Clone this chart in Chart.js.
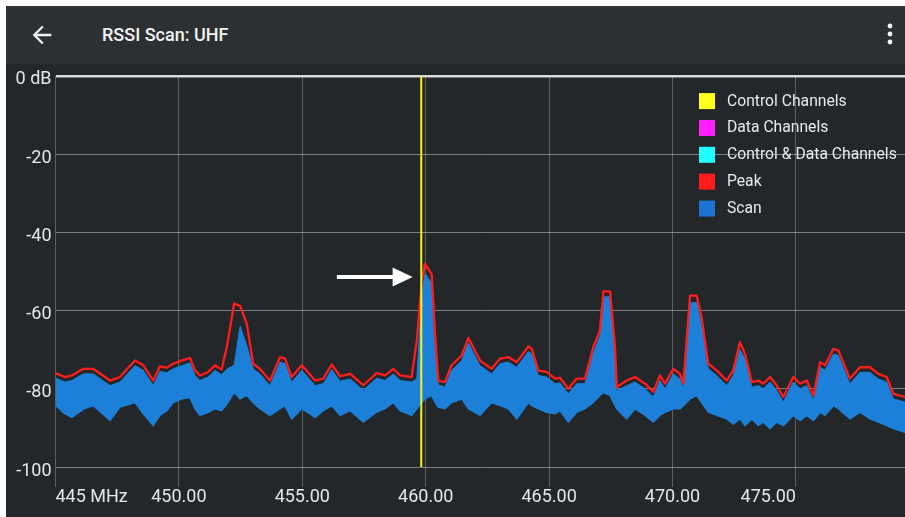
<!DOCTYPE html>
<html>
<head>
<meta charset="utf-8">
<script src="https://cdn.jsdelivr.net/npm/chart.js@4/dist/chart.umd.min.js"></script>
<style>
  html, body { margin: 0; padding: 0; background: #ffffff; width: 905px; height: 517px; overflow: hidden; }
  #app { position: absolute; left: 6px; top: 6px; width: 899px; height: 511px; background: #24272a; font-family: Roboto, "Noto Sans", sans-serif; }
  #bar { position: absolute; left: 0; top: 0; width: 899px; height: 58px; background: #2d3033; }
  #title { position: absolute; left: 96px; top: 18px; line-height: 22px; color: #f2f2f2; font-size: 18px; font-weight: 500; white-space: nowrap; }
  #back { position: absolute; left: 22px; top: 15px; }
  #menu { position: absolute; left: 877px; top: 14px; }
  #plot { position: absolute; left: 0; top: 55px; }
</style>
</head>
<body>
<div id="app">
  <div id="bar">
    <svg id="back" width="28" height="28" viewBox="0 0 24 24"><path fill="#f2f2f2" d="M20 11H7.83l5.59-5.590L12 4l-8 8 8 8 1.41-1.41L7.83 13H20v-2z"/></svg>
    <div id="title">RSSI Scan: UHF</div>
    <svg id="menu" width="14" height="28"><circle cx="7" cy="6" r="2.4" fill="#f2f2f2"/><circle cx="7" cy="14" r="2.4" fill="#f2f2f2"/><circle cx="7" cy="22" r="2.4" fill="#f2f2f2"/></svg>
  </div>
  <canvas id="plot" width="899" height="456"></canvas>
</div>
<script>
// Sweep sample frequencies (MHz)
const freqMHz = [
  445.00, 445.38, 445.66, 446.13, 446.53, 447.21, 447.61, 448.22, 448.56, 448.96,
  449.23, 449.51, 449.77, 450.11, 450.45, 450.65, 450.85, 451.19, 451.46, 451.73,
  451.94, 452.24, 452.48, 452.75, 453.01, 453.28, 453.69, 454.10, 454.30, 454.57,
  454.98, 455.52, 455.85, 456.19, 456.53, 456.94, 457.47, 458.01, 458.35, 458.69,
  458.96, 459.43, 459.64, 459.84, 459.97, 460.24, 460.38, 460.51, 460.78, 461.05,
  461.46, 461.73, 462.20, 462.67, 463.01, 463.35, 463.69, 464.16, 464.30, 464.56,
  464.90, 465.24, 465.44, 465.78, 466.12, 466.45, 466.79, 467.06, 467.20, 467.47,
  467.67, 467.74, 468.14, 468.48, 468.89, 469.22, 469.49, 469.70, 470.03, 470.30,
  470.44, 470.71, 470.98, 471.18, 471.45, 471.79, 472.20, 472.46, 472.73, 472.94,
  473.21, 473.48, 473.68, 473.95, 474.22, 474.49, 474.89, 475.17, 475.44, 475.71,
  475.98, 476.18, 476.52, 476.72, 477.19, 477.60, 478.00, 478.34, 478.68, 478.95,
  479.42
];

// Peak hold (dB)
const peakDb = [
  -76.0, -77.0, -76.6, -74.9, -74.9, -77.9, -77.0, -72.8, -74.0, -77.9,
  -74.3, -74.6, -73.6, -72.8, -72.1, -75.3, -76.6, -75.7, -74.0, -75.1,
  -69.4, -58.2, -58.8, -63.4, -73.6, -74.9, -77.9, -71.9, -72.3, -77.0,
  -74.0, -77.9, -77.4, -73.8, -76.8, -76.2, -79.1, -76.0, -76.6, -74.9,
  -76.6, -77.0, -67.7, -52.4, -48.0, -50.7, -66.0, -77.9, -78.3, -74.0,
  -71.5, -67.0, -72.8, -74.9, -72.3, -71.9, -73.2, -69.2, -69.8, -75.3,
  -75.7, -77.4, -77.2, -80.0, -77.4, -77.4, -69.4, -65.1, -55.1, -55.1,
  -69.4, -79.6, -77.9, -77.0, -78.7, -80.8, -76.6, -78.7, -74.9, -76.2,
  -78.7, -56.2, -56.2, -61.8, -73.6, -75.3, -77.9, -75.3, -68.1, -71.1,
  -78.3, -77.9, -78.7, -77.0, -79.1, -82.1, -77.0, -78.7, -77.9, -81.7,
  -73.2, -74.0, -69.8, -70.2, -77.4, -74.5, -74.5, -76.2, -77.0, -81.3,
  -82.1
];

// Upper envelope of the scan traces (dB)
const scanTopDb = [
  -77.3, -78.3, -77.9, -76.2, -76.2, -79.2, -78.3, -74.1, -75.3, -79.2,
  -75.6, -75.9, -74.9, -74.1, -73.4, -76.6, -77.9, -77.0, -75.3, -76.4,
  -75.0, -74.0, -64.0, -69.0, -74.9, -76.2, -79.2, -73.2, -73.6, -78.3,
  -75.3, -79.2, -78.7, -75.1, -78.1, -77.5, -80.4, -77.3, -77.9, -76.2,
  -77.9, -78.3, -77.5, -56.0, -50.5, -53.0, -70.0, -79.0, -79.6, -75.3,
  -72.8, -68.3, -74.1, -76.2, -73.6, -73.2, -74.5, -70.5, -71.1, -76.6,
  -77.0, -78.7, -78.5, -81.3, -78.7, -78.7, -71.0, -66.5, -56.5, -56.5,
  -72.0, -80.5, -79.2, -78.3, -80.0, -82.1, -77.9, -80.0, -76.2, -77.5,
  -80.0, -58.0, -58.0, -64.0, -74.9, -76.6, -79.2, -76.6, -70.0, -72.4,
  -79.6, -79.2, -80.0, -78.3, -80.4, -83.4, -78.3, -80.0, -79.2, -83.0,
  -74.5, -75.3, -71.1, -71.5, -78.7, -75.8, -75.8, -77.5, -78.3, -82.6,
  -83.4
];

// Lower envelope of the scan traces (dB)
const scanBottomDb = [
  -84.2, -86.4, -87.3, -85.2, -84.3, -88.1, -84.7, -83.5, -86.4, -89.4,
  -86.8, -85.6, -83.5, -82.6, -82.2, -85.1, -86.8, -86.0, -85.1, -85.6,
  -83.9, -80.9, -82.6, -81.7, -83.5, -85.1, -86.8, -85.1, -84.3, -87.7,
  -85.1, -87.3, -85.6, -84.3, -86.8, -85.6, -88.5, -86.0, -85.1, -83.5,
  -85.6, -86.8, -85.1, -83.5, -82.6, -81.7, -83.5, -84.7, -85.1, -83.5,
  -82.6, -85.1, -86.8, -83.5, -84.3, -85.1, -87.7, -83.5, -84.3, -85.1,
  -86.0, -86.4, -85.6, -88.5, -86.0, -85.1, -83.5, -81.7, -81.0, -81.7,
  -84.3, -85.1, -87.7, -85.1, -86.8, -88.5, -86.8, -86.0, -85.1, -85.1,
  -84.3, -82.6, -81.7, -83.5, -86.0, -86.8, -87.7, -89.0, -87.7, -89.4,
  -87.7, -89.4, -88.5, -90.2, -88.5, -89.4, -86.8, -88.1, -86.8, -88.1,
  -86.0, -86.8, -84.3, -85.1, -87.7, -86.0, -87.7, -88.5, -89.4, -90.2,
  -91.1
];

// Control channel marker (MHz)
const controlChannelsMHz = [459.82];
const dataChannelsMHz = [];
const controlDataChannelsMHz = [];

// Axis ranges and ticks
const freqRange = [445, 479.42];
const freqTickStep = 5;
const dbRange = [-100, 0];
const dbTickStep = 20;

const toPoints = (xs, ys) => xs.map((x, i) => ({ x: x, y: ys[i] }));
const markerLines = (xs) => xs.flatMap(x => [{ x: x, y: dbRange[1] }, { x: x, y: dbRange[0] }, { x: NaN, y: NaN }]);

const FONT = 'Roboto, "Noto Sans", sans-serif';

// In-plot key, stacked in the upper right corner
const keyPlugin = {
  id: 'key',
  afterDraw(chart) {
    const ctx = chart.ctx, area = chart.chartArea;
    const x0 = area.left + 643.5, y0 = area.top + 25.3, step = 26.85;
    let row = 0;
    ctx.save();
    ctx.font = '15.7px ' + FONT;
    ctx.textBaseline = 'middle';
    chart.data.datasets.forEach(ds => {
      if (ds.inKey === false) return;
      const y = y0 + row * step;
      ctx.fillStyle = ds.keyColor || ds.borderColor;
      ctx.fillRect(x0, y - 8, 16, 16);
      ctx.fillStyle = '#e9e9e9';
      ctx.fillText(ds.label, x0 + 28, y + 0.5);
      row++;
    });
    ctx.restore();
  }
};

// Pointer arrow at the strongest signal
const pointerPlugin = {
  id: 'pointer',
  afterDatasetsDraw(chart, args, opts) {
    const xs = chart.scales.x, ys = chart.scales.y;
    const x1 = xs.getPixelForValue(opts.from[0]), y1 = ys.getPixelForValue(opts.from[1]);
    const x2 = xs.getPixelForValue(opts.to[0]), y2 = ys.getPixelForValue(opts.to[1]);
    const ctx = chart.ctx;
    ctx.save();
    ctx.fillStyle = '#ffffff';
    ctx.strokeStyle = '#ffffff';
    ctx.lineWidth = 4;
    ctx.beginPath();
    ctx.moveTo(x1, y1);
    ctx.lineTo(x2 - 17, y2);
    ctx.stroke();
    ctx.beginPath();
    ctx.moveTo(x2, y2);
    ctx.lineTo(x2 - 20, y2 - 9.5);
    ctx.lineTo(x2 - 20, y2 + 9.5);
    ctx.closePath();
    ctx.fill();
    ctx.restore();
  }
};

const BLUE = '#1c80d8';

new Chart(document.getElementById('plot'), {
  type: 'line',
  data: {
    datasets: [
      { label: 'Control Channels', data: markerLines(controlChannelsMHz), borderColor: '#f4f41e', keyColor: '#ffff1f', borderWidth: 2, pointRadius: 0, spanGaps: false, order: 0 },
      { label: 'Data Channels', data: markerLines(dataChannelsMHz), borderColor: '#ff20ff', borderWidth: 2, pointRadius: 0, order: 0 },
      { label: 'Control & Data Channels', data: markerLines(controlDataChannelsMHz), borderColor: '#20ffff', borderWidth: 2, pointRadius: 0, order: 0 },
      { label: 'Peak', data: toPoints(freqMHz, peakDb), borderColor: '#ff1c1c', borderWidth: 2.3, pointRadius: 0, tension: 0, borderJoinStyle: 'round', order: 1 },
      { label: 'Scan', data: toPoints(freqMHz, scanTopDb), borderColor: BLUE, backgroundColor: BLUE, keyColor: '#1a74d2', borderWidth: 1, pointRadius: 0, tension: 0, fill: 5, order: 2 },
      { label: 'Scan floor', inKey: false, data: toPoints(freqMHz, scanBottomDb), borderColor: BLUE, borderWidth: 1.5, pointRadius: 0, tension: 0, fill: false, order: 3 }
    ]
  },
  options: {
    responsive: false,
    animation: false,
    events: [],
    layout: { padding: 0 },
    plugins: {
      legend: { display: false },
      tooltip: { enabled: false },
      pointer: { from: [456.4, -51.4], to: [459.47, -51.4] }
    },
    scales: {
      x: {
        type: 'linear',
        min: freqRange[0],
        max: freqRange[1],
        afterFit(s) { s.height = 50; },
        border: { display: false },
        grid: { color: 'rgba(175,175,175,0.42)', lineWidth: 1, drawTicks: true, tickLength: 20 },
        ticks: {
          stepSize: freqTickStep,
          includeBounds: false,
          align: 'inner',
          padding: 0,
          maxRotation: 0,
          autoSkip: false,
          color: '#e6e6e6',
          font: { family: FONT, size: 18 },
          callback: v => v === freqRange[0] ? v + ' MHz' : v.toFixed(2)
        }
      },
      y: {
        min: dbRange[0],
        max: dbRange[1],
        afterFit(s) { s.width = 49.5; },
        border: { display: false },
        grid: {
          drawTicks: false,
          color: c => c.tick.value === 0 ? '#dadada' : 'rgba(200,200,200,0.55)',
          lineWidth: c => c.tick.value === 0 ? 2.5 : 1
        },
        ticks: {
          stepSize: dbTickStep,
          padding: 4,
          labelOffset: 4,
          color: '#e6e6e6',
          font: { family: FONT, size: 18 },
          callback: v => v === 0 ? '0 dB' : String(v)
        }
      }
    }
  },
  plugins: [keyPlugin, pointerPlugin]
});
</script>
</body>
</html>
